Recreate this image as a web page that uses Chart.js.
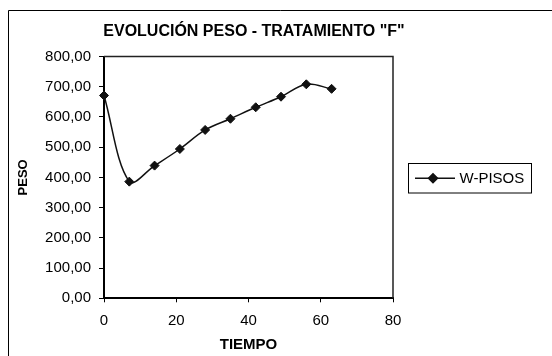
<!DOCTYPE html>
<html>
<head>
<meta charset="utf-8">
<script src="https://cdn.jsdelivr.net/npm/chart.js@4"></script>
<style>
  html, body { margin: 0; padding: 0; background: #fff; }
  #wrap { width: 552px; height: 356px; position: relative; }
</style>
</head>
<body>
<div id="wrap"><canvas id="c"></canvas></div>
<script>
// Weight evolution, treatment "F"
const tiempo = [0, 7, 14, 21, 28, 35, 42, 49, 56, 63];
const peso = [671, 386, 439, 494, 557, 594, 632, 667, 708, 693];
const xTicks = [0, 20, 40, 60, 80];
const yTicks = [0, 100, 200, 300, 400, 500, 600, 700, 800];
const seriesName = 'W-PISOS';
const chartTitle = 'EVOLUCIÓN PESO - TRATAMIENTO "F"';

const FONT = '"Liberation Sans", Arial, sans-serif';

// Outer frame and plot-area frame
const framePlugin = {
  id: 'frame',
  beforeDraw(chart) {
    const ctx = chart.ctx;
    ctx.save();
    ctx.fillStyle = '#fff';
    ctx.fillRect(0, 0, chart.width, chart.height);
    ctx.strokeStyle = '#000';
    ctx.lineWidth = 1;
    ctx.beginPath();
    ctx.moveTo(8.5, chart.height + 2);
    ctx.lineTo(8.5, 10.5);
    ctx.lineTo(chart.width + 2, 10.5);
    ctx.stroke();
    ctx.restore();
  },
  afterDraw(chart) {
    const {left, top, right, bottom} = chart.chartArea;
    const ctx = chart.ctx;
    ctx.save();
    ctx.strokeStyle = '#222';
    ctx.lineWidth = 1.5;
    ctx.beginPath();
    ctx.moveTo(left, top);
    ctx.lineTo(right, top);
    ctx.lineTo(right, bottom);
    ctx.stroke();
    ctx.restore();
  }
};

// Boxed legend with line + diamond sample
const boxLegendPlugin = {
  id: 'boxLegend',
  afterDraw(chart) {
    const ctx = chart.ctx;
    const ds = chart.data.datasets[0];
    const area = chart.chartArea;
    const bx = area.right + 15.5, by = 163.5, bw = 123, bh = 29.5;
    const cy = by + bh / 2;
    ctx.save();
    ctx.strokeStyle = '#000';
    ctx.lineWidth = 1;
    ctx.strokeRect(bx, by, bw, bh);
    ctx.strokeStyle = ds.borderColor;
    ctx.lineWidth = ds.borderWidth;
    ctx.beginPath();
    ctx.moveTo(bx + 6.5, cy);
    ctx.lineTo(bx + 46.5, cy);
    ctx.stroke();
    Chart.helpers.drawPoint(ctx, {
      pointStyle: 'rectRot', radius: ds.pointRadius, borderWidth: 1
    }, bx + 24.5, cy);
    ctx.fillStyle = ds.pointBackgroundColor;
    ctx.fill();
    ctx.fillStyle = '#000';
    ctx.font = '15px ' + FONT;
    ctx.textBaseline = 'middle';
    ctx.textAlign = 'left';
    ctx.fillText(ds.label, bx + 51, cy + 1);
    ctx.restore();
  }
};

new Chart(document.getElementById('c'), {
  type: 'scatter',
  data: {
    datasets: [{
      label: seriesName,
      data: tiempo.map((t, i) => ({x: t, y: peso[i]})),
      showLine: true,
      tension: 0.35,
      borderColor: '#111',
      borderWidth: 1.5,
      pointStyle: 'rectRot',
      pointRadius: 4.5,
      pointBackgroundColor: '#111',
      pointBorderColor: '#111',
      pointBorderWidth: 1,
      clip: false
    }]
  },
  options: {
    responsive: true,
    maintainAspectRatio: false,
    animation: false,
    events: [],
    layout: { padding: { left: 0, right: 44, top: 10, bottom: 0 } },
    plugins: {
      legend: { display: false },
      tooltip: { enabled: false },
      title: {
        display: true,
        text: chartTitle,
        color: '#000',
        font: { family: FONT, size: 16, weight: 'bold', lineHeight: 1.2 },
        padding: { top: 12, bottom: 15.3 }
      }
    },
    scales: {
      x: {
        type: 'linear',
        min: 0, max: 80,
        afterBuildTicks: s => { s.ticks = xTicks.map(v => ({value: v})); },
        afterFit: s => { s.height = 57.7; },
        border: { display: true, color: '#000', width: 2 },
        grid: { display: true, drawOnChartArea: false, drawTicks: true, tickLength: 4, color: '#000', lineWidth: 1 },
        ticks: { color: '#000', padding: 10, maxRotation: 0, font: { family: FONT, size: 15 } },
        title: {
          display: true, text: 'TIEMPO', color: '#000',
          font: { family: FONT, size: 15, weight: 'bold', lineHeight: 1.2 },
          padding: { top: 0, bottom: 2 }
        }
      },
      y: {
        type: 'linear',
        position: 'left',
        min: 0, max: 800,
        afterBuildTicks: s => { s.ticks = yTicks.map(v => ({value: v})); },
        afterFit: s => { s.width = 104; },
        border: { display: true, color: '#000', width: 2 },
        grid: { display: true, drawOnChartArea: false, drawTicks: true, tickLength: 5, color: '#000', lineWidth: 1 },
        ticks: {
          color: '#000', padding: 8,
          font: { family: FONT, size: 15 },
          callback: v => v.toFixed(2).replace('.', ',')
        },
        title: {
          display: true, text: 'PESO', color: '#000',
          font: { family: FONT, size: 13, weight: 'bold', lineHeight: 1.2 },
          padding: { top: 16, bottom: 0 }
        }
      },
      // keeps the space on the right of the plot for the legend box
      legendSpace: {
        type: 'linear',
        position: 'right',
        display: true,
        afterFit: s => { s.width = 115; },
        border: { display: false },
        grid: { display: false },
        ticks: { display: false }
      }
    }
  },
  plugins: [framePlugin, boxLegendPlugin]
});
</script>
</body>
</html>
